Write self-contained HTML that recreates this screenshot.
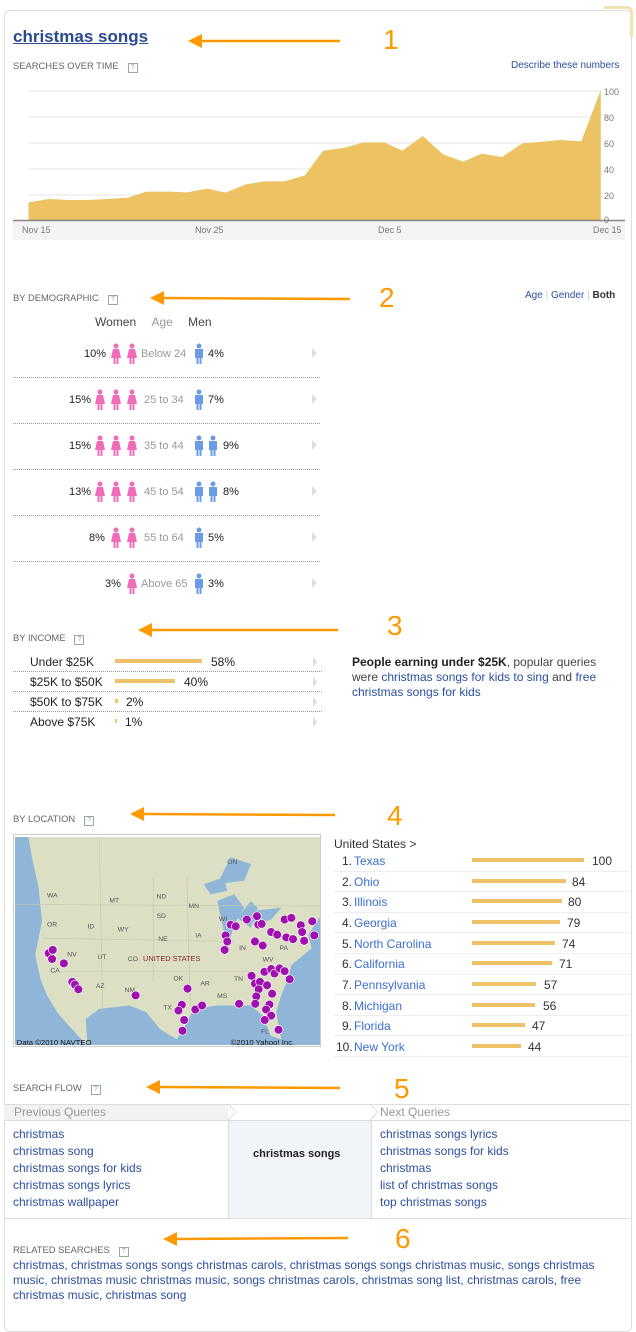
<!DOCTYPE html>
<html><head><meta charset="utf-8"><style>
body{margin:0;width:636px;height:1316px;background:#fff;position:relative;font-family:"Liberation Sans",sans-serif;overflow:hidden}
.a{position:absolute;white-space:nowrap}
.h{font-size:9.4px;color:#666}
.q{display:inline-block;width:8px;height:8px;border:1px solid #9a9;font-size:7px;line-height:8px;text-align:center;color:#8a8;margin-left:9px;vertical-align:0px}
.l{color:#2a4fa0}
.s{font-size:12px}
.num{color:#f90;font-size:28px}
</style></head><body>
<div class="a" style="left:4px;top:10px;width:626px;height:1320px;border:1px solid #ddd;border-radius:6px"></div>
<div class="a" style="left:604px;top:6px;width:26px;height:28px;border-top:3px solid #f3e3b0;border-right:3px solid #f3e3b0;border-radius:0 6px 0 0"></div>

<svg class="a" style="left:0;top:0" width="636" height="1316">
<g stroke="#f90" stroke-width="2.5" fill="#f90">
<line x1="340" y1="41" x2="200" y2="41"/><polygon points="188,41 202,34 202,48" stroke="none"/>
<line x1="350" y1="299" x2="160" y2="298"/><polygon points="150,298 164,291 164,305" stroke="none"/>
<line x1="338" y1="630" x2="150" y2="630"/><polygon points="138,630 152,623 152,637" stroke="none"/>
<line x1="335" y1="815" x2="142" y2="814"/><polygon points="130,814 144,807 144,821" stroke="none"/>
<line x1="340" y1="1088" x2="158" y2="1087"/><polygon points="146,1087 160,1080 160,1094" stroke="none"/>
<line x1="348" y1="1238" x2="176" y2="1239"/><polygon points="163,1239 177,1232 177,1246" stroke="none"/>
</g></svg>
<div class="a num" style="left:383px;top:24px">1</div>
<div class="a num" style="left:379px;top:282px">2</div>
<div class="a num" style="left:387px;top:610px">3</div>
<div class="a num" style="left:387px;top:800px">4</div>
<div class="a num" style="left:394px;top:1073px">5</div>
<div class="a num" style="left:395px;top:1223px">6</div>

<div class="a" style="left:13px;top:27px;font-size:17px;font-weight:bold;color:#2a4a90;text-decoration:underline">christmas songs</div>
<div class="a h" style="left:13px;top:60px">SEARCHES OVER TIME<span class="q">?</span></div>
<div class="a l" style="left:511px;top:60px;font-size:10px">Describe these numbers</div>
<div class="a" style="left:13px;top:220px;width:612px;height:20px;background:#f4f4f4"></div>
<svg class="a" style="left:0;top:0" width="636" height="250">
<g stroke="#e6e6e6"><line x1="29" y1="91" x2="600" y2="91"/><line x1="29" y1="117" x2="600" y2="117"/><line x1="29" y1="143" x2="600" y2="143"/><line x1="29" y1="169" x2="600" y2="169"/><line x1="29" y1="195" x2="600" y2="195"/></g>
<g transform="scale(0.4065,0.3333)">
<polygon fill="#ecc262" points="70,662 70,607 120,597 170,600 215,600 265,597 315,593 360,575 415,575 460,577 510,566 555,578 605,553 650,544 700,544 750,526 795,452 845,444 895,427 945,427 990,452 1040,408 1090,463 1140,485 1185,461 1235,471 1285,430 1335,425 1380,420 1430,424 1478,270 1478,662"/>
</g>
<line x1="13" y1="220.5" x2="625" y2="220.5" stroke="#888" stroke-width="1.5"/>
<g font-size="9" fill="#777" font-family="Liberation Sans"><text x="604" y="95">100</text><text x="604" y="121">80</text><text x="604" y="147">60</text><text x="604" y="173">40</text><text x="604" y="199">20</text><text x="604" y="223">0</text>
<text x="22" y="233">Nov 15</text><text x="195" y="233">Nov 25</text><text x="378" y="233">Dec 5</text><text x="593" y="233">Dec 15</text></g>
</svg>

<div class="a h" style="left:13px;top:292px">BY DEMOGRAPHIC<span class="q">?</span></div>
<div class="a" style="left:525px;top:290px;font-size:10px"><span class="l">Age</span> <span style="color:#ccc">|</span> <span class="l">Gender</span> <span style="color:#ccc">|</span> <b style="color:#333">Both</b></div>
<div class="a" style="left:95px;top:315px;color:#444;font-size:12px">Women <span style="color:#999;margin-left:12px">Age</span> <span style="margin-left:12px">Men</span></div>
<svg width="0" height="0" style="position:absolute"><defs>
<g id="w"><circle cx="5" cy="3" r="2.5" fill="#f06cb8"/><polygon points="2,6 8,6 10,15 0,15" fill="#f06cb8"/><rect x="2.5" y="15" width="2" height="6" fill="#f06cb8"/><rect x="5.5" y="15" width="2" height="6" fill="#f06cb8"/></g>
<g id="m"><circle cx="5" cy="3" r="2.5" fill="#6a9be6"/><rect x="1" y="6" width="8" height="9" fill="#6a9be6"/><rect x="2.5" y="14" width="2" height="7" fill="#6a9be6"/><rect x="5.5" y="14" width="2" height="7" fill="#6a9be6"/></g>
</defs></svg>
<svg class="a" style="left:0;top:330px" width="330" height="270" font-family="Liberation Sans" font-size="11">
<g fill="#222"><text x="84" y="27">10%</text><text x="69" y="73">15%</text><text x="69" y="119">15%</text><text x="69" y="165">13%</text><text x="89" y="211">8%</text><text x="105" y="257">3%</text>
<text x="208" y="27">4%</text><text x="208" y="73">7%</text><text x="223" y="119">9%</text><text x="223" y="165">8%</text><text x="208" y="211">5%</text><text x="208" y="257">3%</text></g>
<g fill="#999"><text x="141" y="27">Below 24</text><text x="144" y="73">25 to 34</text><text x="144" y="119">35 to 44</text><text x="144" y="165">45 to 54</text><text x="144" y="211">55 to 64</text><text x="141" y="257">Above 65</text></g>
<use href="#w" x="111" y="13"/><use href="#w" x="127" y="13"/><use href="#m" x="194" y="13"/>
<use href="#w" x="95" y="59"/><use href="#w" x="111" y="59"/><use href="#w" x="127" y="59"/><use href="#m" x="194" y="59"/>
<use href="#w" x="95" y="105"/><use href="#w" x="111" y="105"/><use href="#w" x="127" y="105"/><use href="#m" x="194" y="105"/><use href="#m" x="208" y="105"/>
<use href="#w" x="95" y="151"/><use href="#w" x="111" y="151"/><use href="#w" x="127" y="151"/><use href="#m" x="194" y="151"/><use href="#m" x="208" y="151"/>
<use href="#w" x="111" y="197"/><use href="#w" x="127" y="197"/><use href="#m" x="194" y="197"/>
<use href="#w" x="127" y="243"/><use href="#m" x="194" y="243"/>
<g fill="#ddd"><polygon points="312,18 317,23 312,28"/><polygon points="312,64 317,69 312,74"/><polygon points="312,110 317,115 312,120"/><polygon points="312,156 317,161 312,166"/><polygon points="312,202 317,207 312,212"/><polygon points="312,248 317,253 312,258"/></g>
<g stroke="#999" stroke-dasharray="1,1"><line x1="13" y1="47.5" x2="321" y2="47.5"/><line x1="13" y1="93.5" x2="321" y2="93.5"/><line x1="13" y1="139.5" x2="321" y2="139.5"/><line x1="13" y1="185.5" x2="321" y2="185.5"/><line x1="13" y1="231.5" x2="321" y2="231.5"/></g>
</svg>

<div class="a h" style="left:13px;top:632px">BY INCOME<span class="q">?</span></div>
<svg class="a" style="left:0;top:650px" width="330" height="80" font-family="Liberation Sans" font-size="12">
<g fill="#222"><text x="30" y="16">Under $25K</text><text x="30" y="36">$25K to $50K</text><text x="30" y="56">$50K to $75K</text><text x="30" y="76">Above $75K</text>
<text x="211" y="16">58%</text><text x="184" y="36">40%</text><text x="126" y="56">2%</text><text x="125" y="76">1%</text></g>
<g fill="#efc26a"><rect x="115" y="9" width="87" height="4"/><rect x="115" y="29" width="60" height="4"/><rect x="115" y="49" width="3" height="4"/><rect x="115" y="69" width="2" height="4"/></g>
<g fill="#ddd"><polygon points="313,7 317,12 313,17"/><polygon points="313,27 317,32 313,37"/><polygon points="313,47 317,52 313,57"/><polygon points="313,67 317,72 313,77"/></g>
<g stroke="#999" stroke-dasharray="1,1"><line x1="13" y1="21.5" x2="322" y2="21.5"/><line x1="13" y1="41.5" x2="322" y2="41.5"/><line x1="13" y1="61.5" x2="322" y2="61.5"/></g>
</svg>
<div class="a s" style="left:352px;top:655px;line-height:15px;color:#444;white-space:normal;width:270px"><b style="color:#222">People earning under $25K</b>, popular queries were <span class="l">christmas songs for kids to sing</span> and <span class="l">free christmas songs for kids</span></div>

<div class="a h" style="left:13px;top:813px">BY LOCATION<span class="q">?</span></div>
<div class="a" style="left:13px;top:834px;width:306px;height:211px;border:1px solid #ccc"></div>
<svg class="a" style="left:15px;top:837px" width="305" height="208">
<g transform="scale(0.337)">
<rect width="910" height="620" fill="#8fb6d8"/>
<polygon fill="#dcdfc4" points="40,0 910,0 910,230 870,290 880,330 820,380 810,420 790,470 775,520 790,600 760,590 735,530 700,500 600,500 530,510 505,560 480,600 430,570 390,520 340,500 250,510 210,540 215,620 160,560 125,520 95,470 75,420 60,350 80,250 70,150 50,60"/>
<g fill="#8fb6d8"><polygon points="600,190 650,170 680,210 650,260 640,300 620,280"/><polygon points="660,240 700,190 720,210 700,270"/><polygon points="700,220 790,210 760,245 710,260"/><polygon points="560,140 620,120 630,160 580,170"/><polygon points="600,140 640,60 700,80 680,130"/></g>
<g stroke="#c8c8b0" stroke-width="2" fill="none"><line x1="0" y1="200" x2="910" y2="205"/><line x1="250" y1="0" x2="260" y2="520"/><line x1="410" y1="120" x2="410" y2="430"/><line x1="510" y1="120" x2="520" y2="500"/><line x1="80" y1="300" x2="650" y2="310"/><line x1="100" y1="400" x2="700" y2="400"/></g>
<g fill="#555" font-family="Liberation Sans" font-size="20"><text x="95" y="180">WA</text><text x="280" y="195">MT</text><text x="420" y="183">ND</text><text x="515" y="210">MN</text><text x="95" y="265">OR</text><text x="215" y="272">ID</text><text x="305" y="280">WY</text><text x="420" y="240">SD</text><text x="425" y="308">NE</text><text x="535" y="298">IA</text><text x="155" y="355">NV</text><text x="245" y="362">UT</text><text x="335" y="368">CO</text><text x="240" y="448">AZ</text><text x="325" y="460">NM</text><text x="470" y="426">OK</text><text x="550" y="440">AR</text><text x="440" y="512">TX</text><text x="600" y="478">MS</text><text x="650" y="428">TN</text><text x="735" y="370">WV</text><text x="665" y="335">IN</text><text x="785" y="335">PA</text><text x="105" y="402">CA</text><text x="730" y="583">FL</text><text x="630" y="80">ON</text><text x="605" y="250">WI</text></g>
<text x="380" y="368" fill="#8a2a2a" font-family="Liberation Sans" font-size="22">UNITED STATES</text>
<g fill="#a010b0" stroke="#fff" stroke-width="2">
<circle cx="100" cy="345" r="13"/><circle cx="112" cy="335" r="13"/><circle cx="110" cy="362" r="13"/><circle cx="145" cy="375" r="13"/><circle cx="170" cy="430" r="13"/><circle cx="178" cy="438" r="13"/><circle cx="188" cy="452" r="13"/><circle cx="358" cy="470" r="13"/><circle cx="512" cy="450" r="13"/><circle cx="495" cy="498" r="13"/><circle cx="485" cy="515" r="13"/><circle cx="502" cy="543" r="13"/><circle cx="497" cy="575" r="13"/><circle cx="535" cy="512" r="13"/><circle cx="555" cy="500" r="13"/><circle cx="665" cy="495" r="13"/>
<circle cx="625" cy="292" r="13"/><circle cx="630" cy="310" r="13"/><circle cx="622" cy="335" r="13"/><circle cx="640" cy="260" r="13"/><circle cx="655" cy="265" r="13"/><circle cx="688" cy="245" r="13"/><circle cx="718" cy="235" r="13"/><circle cx="722" cy="260" r="13"/><circle cx="732" cy="258" r="13"/><circle cx="712" cy="310" r="13"/><circle cx="735" cy="322" r="13"/><circle cx="760" cy="282" r="13"/><circle cx="778" cy="290" r="13"/><circle cx="805" cy="298" r="13"/><circle cx="825" cy="303" r="13"/><circle cx="858" cy="308" r="13"/><circle cx="800" cy="245" r="13"/><circle cx="820" cy="240" r="13"/><circle cx="848" cy="262" r="13"/><circle cx="852" cy="282" r="13"/><circle cx="882" cy="250" r="13"/><circle cx="888" cy="292" r="13"/>
<circle cx="740" cy="400" r="13"/><circle cx="760" cy="392" r="13"/><circle cx="770" cy="405" r="13"/><circle cx="785" cy="390" r="13"/><circle cx="800" cy="398" r="13"/><circle cx="815" cy="422" r="13"/><circle cx="702" cy="412" r="13"/><circle cx="712" cy="435" r="13"/><circle cx="727" cy="430" r="13"/><circle cx="748" cy="440" r="13"/><circle cx="723" cy="452" r="13"/><circle cx="763" cy="465" r="13"/><circle cx="716" cy="473" r="13"/><circle cx="713" cy="495" r="13"/><circle cx="755" cy="497" r="13"/><circle cx="745" cy="512" r="13"/><circle cx="760" cy="530" r="13"/><circle cx="741" cy="543" r="13"/><circle cx="782" cy="572" r="13"/>
</g>
<g font-family="Liberation Sans" font-size="23" fill="#111"><text x="5" y="617">Data ©2010 NAVTEQ</text><text x="640" y="617">©2010 Yahoo! Inc.</text></g>
</g></svg>

<div class="a s" style="left:334px;top:837px;color:#333">United States &gt;</div>
<svg class="a" style="left:334px;top:850px" width="296" height="210" font-family="Liberation Sans" font-size="12">
<g stroke="#eee"><line x1="0" y1="21.5" x2="296" y2="21.5"/><line x1="0" y1="41.5" x2="296" y2="41.5"/><line x1="0" y1="62.5" x2="296" y2="62.5"/><line x1="0" y1="82.5" x2="296" y2="82.5"/><line x1="0" y1="103.5" x2="296" y2="103.5"/><line x1="0" y1="124.5" x2="296" y2="124.5"/><line x1="0" y1="144.5" x2="296" y2="144.5"/><line x1="0" y1="165.5" x2="296" y2="165.5"/><line x1="0" y1="185.5" x2="296" y2="185.5"/><line x1="0" y1="206.5" x2="296" y2="206.5"/></g>
<g fill="#333"><text x="8" y="15">1.</text><text x="8" y="36">2.</text><text x="8" y="56">3.</text><text x="8" y="77">4.</text><text x="8" y="98">5.</text><text x="8" y="118">6.</text><text x="8" y="139">7.</text><text x="8" y="160">8.</text><text x="8" y="180">9.</text><text x="2" y="201">10.</text>
<text x="258" y="15">100</text><text x="238" y="36">84</text><text x="234" y="56">80</text><text x="233" y="77">79</text><text x="228" y="98">74</text><text x="225" y="118">71</text><text x="210" y="139">57</text><text x="209" y="160">56</text><text x="198" y="180">47</text><text x="194" y="201">44</text></g>
<g fill="#3a6fd0"><text x="20" y="15">Texas</text><text x="20" y="36">Ohio</text><text x="20" y="56">Illinois</text><text x="20" y="77">Georgia</text><text x="20" y="98">North Carolina</text><text x="20" y="118">California</text><text x="20" y="139">Pennsylvania</text><text x="20" y="160">Michigan</text><text x="20" y="180">Florida</text><text x="20" y="201">New York</text></g>
<g fill="#efc26a"><rect x="138" y="8" width="112" height="4"/><rect x="138" y="29" width="94" height="4"/><rect x="138" y="49" width="90" height="4"/><rect x="138" y="70" width="88" height="4"/><rect x="138" y="91" width="83" height="4"/><rect x="138" y="111" width="80" height="4"/><rect x="138" y="132" width="64" height="4"/><rect x="138" y="153" width="63" height="4"/><rect x="138" y="173" width="53" height="4"/><rect x="138" y="194" width="49" height="4"/></g>
</svg>

<div class="a h" style="left:13px;top:1082px">SEARCH FLOW<span class="q">?</span></div>
<div class="a" style="left:4px;top:1104px;width:626px;height:15px;border-top:1px solid #ddd;border-bottom:1px solid #ddd;background:#fff"></div>
<div class="a" style="left:4px;top:1105px;width:224px;height:15px;background:#f2f2f2"></div>
<div class="a s" style="left:14px;top:1105px;color:#999">Previous Queries</div>
<div class="a s" style="left:380px;top:1105px;color:#999">Next Queries</div>
<svg class="a" style="left:0;top:1104px" width="636" height="17"><polyline points="228,0 236,8 228,16" fill="none" stroke="#ddd"/><polyline points="370,0 378,8 370,16" fill="none" stroke="#ddd"/></svg>
<div class="a" style="left:228px;top:1121px;width:142px;height:97px;background:#f1f4f8;border-left:1px solid #ddd;border-right:1px solid #ddd"></div>
<div class="a" style="left:4px;top:1218px;width:626px;border-top:1px solid #ddd"></div>
<div class="a s l" style="left:13px;top:1126px;line-height:17px">christmas<br>christmas song<br>christmas songs for kids<br>christmas songs lyrics<br>christmas wallpaper</div>
<div class="a s" style="left:253px;top:1148px;font-weight:bold;color:#222;font-size:11px">christmas songs</div>
<div class="a s l" style="left:380px;top:1126px;line-height:17px">christmas songs lyrics<br>christmas songs for kids<br>christmas<br>list of christmas songs<br>top christmas songs</div>

<div class="a h" style="left:13px;top:1244px">RELATED SEARCHES<span class="q">?</span></div>
<div class="a s l" style="left:13px;top:1258px;width:612px;white-space:normal;line-height:15px">christmas, christmas songs songs christmas carols, christmas songs songs christmas music, songs christmas music, christmas music christmas music, songs christmas carols, christmas song list, christmas carols, free christmas music, christmas song</div>
</body></html>
